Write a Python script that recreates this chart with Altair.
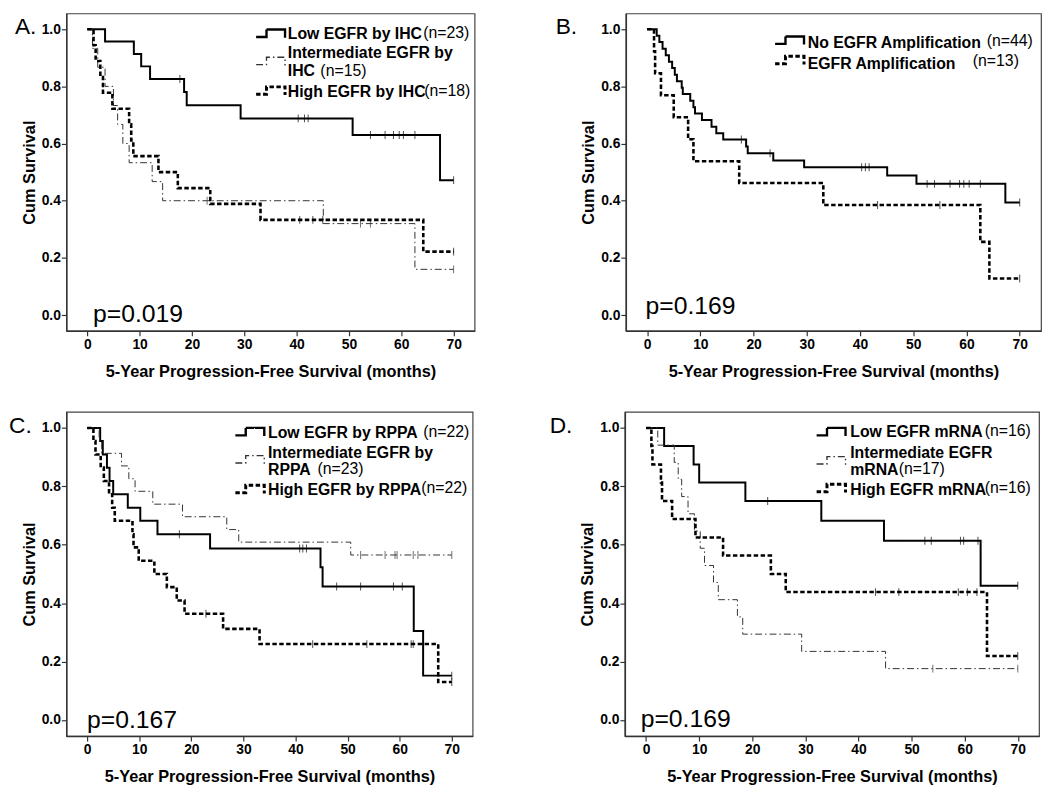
import altair as alt
import pandas as pd

# ---------------- data ----------------
STYLES = ["low", "int", "high"]
X_TITLE = "5-Year Progression-Free Survival (months)"
Y_TITLE = "Cum Survival"

# Panel A : EGFR by IHC
A_letter, A_p = "A.", "p=0.019"
A_low_t = [3.4, 8.9, 10.3, 12.0, 18.5, 19.0, 29.3, 50.7, 67.4]
A_low_s = [0.957, 0.913, 0.870, 0.826, 0.780, 0.734, 0.688, 0.630, 0.472]
A_low_c = [17.7, 40.3, 41.5, 42.2, 54.1, 56.9, 58.5, 59.6, 60.4, 62.6, 70.0]
A_int_t = [1.0, 2.0, 3.4, 5.0, 5.8, 6.8, 8.0, 12.4, 14.4, 45.1, 62.6]
A_int_s = [0.933, 0.867, 0.800, 0.733, 0.667, 0.600, 0.533, 0.467, 0.400, 0.320, 0.160]
A_int_c = [22.9, 52.2, 54.1, 70.0]
A_high_t = [1.2, 1.6, 2.5, 3.0, 4.8, 8.0, 8.4, 8.8, 13.6, 17.3, 23.5, 33.1, 64.2]
A_high_s = [0.944, 0.889, 0.833, 0.778, 0.722, 0.667, 0.611, 0.556, 0.500, 0.444, 0.389, 0.333, 0.222]
A_high_c = [40.6, 43.1, 45.0, 70.0]
A_labels = ["Low EGFR by IHC", "Intermediate EGFR by", "IHC", "High EGFR by IHC"]
A_ns = ["(n=23)", "(n=15)", "(n=18)"]

# Panel B : EGFR amplification
B_letter, B_p = "B.", "p=0.169"
B_no_t = [1.8, 2.3, 2.9, 3.5, 4.1, 4.7, 5.2, 5.6, 6.5, 6.7, 8.1, 8.7, 9.0, 10.3, 12.1, 13.0, 14.3,
          18.6, 18.9, 23.7, 29.5, 45.1, 50.6, 67.3]
B_no_s = [0.977, 0.955, 0.932, 0.909, 0.886, 0.864, 0.841, 0.818, 0.795, 0.773, 0.750, 0.727, 0.705,
          0.682, 0.659, 0.636, 0.614, 0.590, 0.566, 0.541, 0.517, 0.488, 0.459, 0.394]
B_no_c = [17.7, 23.1, 40.3, 41.0, 41.7, 52.6, 54.0, 56.9, 58.7, 59.5, 60.5, 62.6, 70.0]
B_amp_t = [1.3, 1.5, 2.6, 5.0, 7.7, 8.7, 17.3, 33.1, 62.6, 64.3]
B_amp_s = [0.923, 0.846, 0.769, 0.692, 0.615, 0.538, 0.462, 0.385, 0.256, 0.128]
B_amp_c = [43.3, 55.0, 70.0]
B_labels = ["No EGFR Amplification", "EGFR Amplification"]
B_ns = ["(n=44)", "(n=13)"]

# Panel C : EGFR by RPPA
C_letter, C_p = "C.", "p=0.167"
C_low_t = [2.5, 3.0, 3.8, 4.3, 5.0, 7.8, 10.2, 13.5, 23.6, 44.8, 45.2, 62.7, 64.5]
C_low_s = [0.955, 0.909, 0.864, 0.818, 0.773, 0.727, 0.682, 0.636, 0.587, 0.523, 0.457, 0.305, 0.152]
C_low_c = [17.7, 40.8, 41.4, 42.1, 47.9, 52.5, 58.8, 60.5, 70.0]
C_int_t = [2.3, 2.8, 6.6, 8.0, 9.2, 12.6, 18.3, 26.8, 29.1, 50.6]
C_int_s = [0.957, 0.913, 0.870, 0.826, 0.783, 0.739, 0.696, 0.652, 0.609, 0.565]
C_int_c = [52.5, 57.2, 59.1, 59.5, 62.6, 63.5, 70.0]
C_high_t = [1.2, 1.6, 2.6, 3.2, 4.2, 4.8, 5.3, 8.7, 8.9, 9.9, 12.9, 15.3, 17.2, 18.7, 26.1, 33.1, 67.4]
C_high_s = [0.955, 0.909, 0.864, 0.818, 0.773, 0.727, 0.682, 0.636, 0.591, 0.545, 0.500, 0.455,
            0.409, 0.364, 0.312, 0.260, 0.130]
C_high_c = [22.8, 43.3, 53.7, 62.2, 62.6, 70.0]
C_labels = ["Low EGFR by RPPA", "Intermediate EGFR by", "RPPA", "High EGFR by RPPA"]
C_ns = ["(n=22)", "(n=23)", "(n=22)"]

# Panel D : EGFR mRNA
D_letter, D_p = "D.", "p=0.169"
D_low_t = [3.4, 8.95, 10.0, 18.7, 33.0, 44.8, 63.0]
D_low_s = [0.938, 0.875, 0.813, 0.750, 0.682, 0.614, 0.460]
D_low_c = [22.9, 52.5, 53.7, 59.2, 59.8, 62.5, 70.0]
D_int_t = [2.2, 5.3, 6.05, 6.7, 7.9, 9.1, 10.2, 11.0, 12.7, 13.6, 17.2, 18.2, 29.3, 45.1]
D_int_s = [0.941, 0.882, 0.824, 0.765, 0.706, 0.647, 0.588, 0.529, 0.471, 0.412, 0.353, 0.294,
           0.235, 0.176]
D_int_c = [54.0, 70.0]
D_high_t = [1.0, 1.2, 2.8, 3.0, 4.9, 9.3, 14.5, 23.5, 26.3, 64.2]
D_high_s = [0.938, 0.875, 0.813, 0.750, 0.688, 0.625, 0.563, 0.500, 0.438, 0.219]
D_high_c = [43.2, 47.6, 58.8, 60.5, 62.3, 70.0]
D_labels = ["Low EGFR mRNA", "Intermediate EGFR", "mRNA", "High EGFR mRNA"]
D_ns = ["(n=16)", "(n=17)", "(n=16)"]

X_TICKS = list(range(0, 75, 5))
Y_TICKS = [0.0, 0.2, 0.4, 0.6, 0.8, 1.0]

# ---------------- styling ----------------
FONT = "Liberation Sans"
STYLE = {
    "low": dict(dash=[1, 0], width=2.0, color="#000000"),
    "int": dict(dash=[7, 3, 1.5, 3], width=1.0, color="#333333"),
    "high": dict(dash=[4.5, 2.5], width=2.6, color="#000000"),
}
GLYPH = "M-1,0.25H-0.3V-0.25H0.95V0.3"

xscale = alt.Scale(domain=[-4, 74], nice=False, zero=False)
yscale = alt.Scale(domain=[-0.055, 1.055], nice=False, zero=False)
xaxis = alt.Axis(values=X_TICKS, labelExpr="datum.value % 10 == 0 ? datum.label : ''",
                 grid=False, tickSize=5, labelPadding=2, titlePadding=12)
yaxis = alt.Axis(values=Y_TICKS, format=".1f", grid=False, tickSize=5, labelPadding=1,
                 titlePadding=4)


def build(style, t, s, c):
    rows = [{"t": 0.0, "s": 1.0}]
    for ti, si in zip(t, s):
        rows.append({"t": ti, "s": si})
    rows.append({"t": max(c + t), "s": s[-1]})
    cens = []
    for ci in c:
        sv = 1.0
        for ti, si in zip(t, s):
            if ti <= ci:
                sv = si
        cens.append({"t": ci, "s": sv})
    return pd.DataFrame(rows), pd.DataFrame(cens)


ONE = pd.DataFrame({"k": [0]})


def txt(text, x, y, size=16, bold=True, baseline="middle"):
    return alt.Chart(ONE).mark_text(align="left", baseline=baseline, font=FONT, fontSize=size,
                                    fontWeight="bold" if bold else "normal", color="black").encode(
        x=alt.value(x), y=alt.value(y), text=alt.value(text))


def glyph(style, x, y):
    st = STYLE[style]
    return alt.Chart(ONE).mark_point(shape=GLYPH, size=900, filled=False, opacity=1,
                                     strokeWidth=st["width"] + 0.4, strokeDash=st["dash"],
                                     color=st["color"]).encode(x=alt.value(x), y=alt.value(y))


def panel(series, W, H, letter, letter_x, pval, p_x, p_up, legend):
    layers = []
    for style, t, s, c in series:
        st = STYLE[style]
        df, dc = build(style, t, s, c)
        x = alt.X("t:Q", scale=xscale, axis=xaxis, title=X_TITLE)
        y = alt.Y("s:Q", scale=yscale, axis=yaxis, title=Y_TITLE)
        layers.append(alt.Chart(df).mark_line(interpolate="step-after", strokeDash=st["dash"],
                                              strokeWidth=st["width"], color=st["color"]).encode(x=x, y=y))
        layers.append(alt.Chart(dc).mark_tick(orient="vertical", size=8, thickness=1,
                                              color=st["color"]).encode(x="t:Q", y="s:Q"))
    layers.append(txt(letter, letter_x, 21, size=23, bold=False, baseline="alphabetic"))
    layers.append(txt(pval, p_x, H - p_up, size=25, bold=False, baseline="alphabetic"))
    for kind, a, b, c in legend:
        if kind == "g":
            layers.append(glyph(a, b, c))
        elif kind == "b":
            layers.append(txt(a, b, c, bold=True))
        else:
            layers.append(txt(a, b, c, bold=False))
    return alt.layer(*layers).properties(width=W, height=H)


H1, H2 = 321, 328

panelA = panel([("low", A_low_t, A_low_s, A_low_c), ("int", A_int_t, A_int_s, A_int_c),
                ("high", A_high_t, A_high_s, A_high_c)], 413, H1, A_letter, -52, A_p, 27, 9,
               [("g", "low", 207, 20), ("g", "int", 207, 48), ("g", "high", 207, 78),
                ("b", A_labels[0], 224, 21), ("n", A_ns[0], 361, 20),
                ("b", A_labels[1], 224, 40), ("b", A_labels[2], 224, 58), ("n", A_ns[1], 257, 58),
                ("b", A_labels[3], 224, 79), ("n", A_ns[2], 362, 78)])

panelB = panel([("low", B_no_t, B_no_s, B_no_c), ("high", B_amp_t, B_amp_s, B_amp_c)],
               420, H1, B_letter, -71, B_p, 20, 17,
               [("g", "low", 166, 27), ("g", "high", 166, 47),
                ("b", B_labels[0], 184, 30), ("n", B_ns[0], 365, 28),
                ("b", B_labels[1], 184, 51), ("n", B_ns[1], 351, 48)])

panelC = panel([("low", C_low_t, C_low_s, C_low_c), ("int", C_int_t, C_int_s, C_int_c),
                ("high", C_high_t, C_high_s, C_high_c)], 411, H2, C_letter, -58, C_p, 21, 8,
               [("g", "low", 186, 20), ("g", "int", 186, 48), ("g", "high", 186, 78),
                ("b", C_labels[0], 204, 21), ("n", C_ns[0], 361, 20),
                ("b", C_labels[1], 204, 42), ("b", C_labels[2], 204, 59), ("n", C_ns[1], 254, 58),
                ("b", C_labels[3], 204, 79), ("n", C_ns[2], 359, 77)])

panelD = panel([("low", D_low_t, D_low_s, D_low_c), ("int", D_int_t, D_int_s, D_int_c),
                ("high", D_high_t, D_high_s, D_high_c)], 419, H2, D_letter, -76, D_p, 16, 9,
               [("g", "low", 209, 20), ("g", "int", 209, 49), ("g", "high", 209, 77),
                ("b", D_labels[0], 228, 20), ("n", D_ns[0], 364, 19),
                ("b", D_labels[1], 228, 42), ("b", D_labels[2], 228, 59), ("n", D_ns[1], 277, 58),
                ("b", D_labels[3], 228, 79), ("n", D_ns[2], 364, 77)])

row1 = alt.hconcat(panelA, panelB, spacing=80)
row2 = alt.hconcat(panelC, panelD, spacing=76)

PAD = {"left": 0, "top": 0, "right": 0, "bottom": 0}
chart = alt.vconcat(row1, row2, spacing=30, padding=PAD).configure_view(
    stroke="#444444", strokeWidth=1.2
).configure_axis(
    labelFont=FONT, labelFontSize=14, labelFontWeight="bold", labelColor="black",
    titleFont=FONT, titleFontSize=16.5, titleFontWeight="bold", titleColor="black",
    domainColor="#333333", domainWidth=1.5, tickColor="#333333", tickWidth=1.2
)

chart.save("out.html", embed_options={"renderer": "svg", "actions": False})
